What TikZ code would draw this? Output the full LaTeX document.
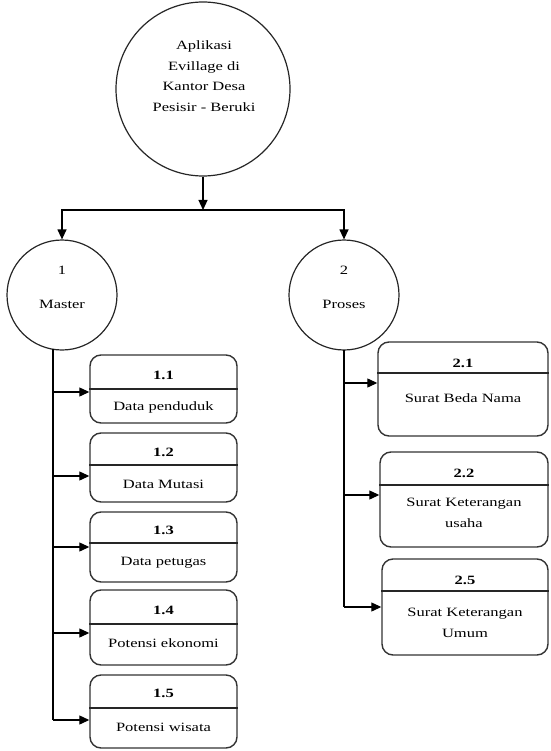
\documentclass[tikz,border=0pt]{standalone}
\usepackage{fontspec}
\setmainfont[FakeStretch=1.3]{Liberation Serif}
\usetikzlibrary{arrows.meta}

\tikzset{
  proc/.style={circle, draw=black!85, line width=1.2pt, inner sep=0pt, minimum size=#1},
  card/.style={draw=black!80, line width=1.4pt, rounded corners=11pt, minimum width=#1, inner sep=0pt},
  lbl/.style={inner sep=0pt, align=center, font=\fontsize{12.7}{20.5}\selectfont},
  num/.style={inner sep=0pt, font=\fontsize{12.7}{14}\selectfont\bfseries},
  link/.style={line width=1.2pt, -{Triangle[length=10pt,width=9pt]}},
  trunk/.style={line width=1.2pt},
  rule/.style={line width=1.2pt, black!85},
}

\begin{document}
\begin{tikzpicture}[x=1pt, y=-1pt]
  \useasboundingbox (0,0) rectangle (550,751);

  % root process
  \node[proc=174pt] (root) at (203,89) {};
  \node[lbl] (roottxt) at (204,76) {Aplikasi\\Evillage di\\Kantor Desa\\Pesisir - Beruki};

  % level-one processes
  \node[proc=110pt] (master) at (62,295) {};
  \node[lbl] (masternum) at (62,270) {1};
  \node[lbl] (mastertxt) at (62,304) {Master};

  \node[proc=110pt] (proses) at (344,295) {};
  \node[lbl] (prosesnum) at (344,270) {2};
  \node[lbl] (prosestxt) at (344,304) {Proses};

  % root to level one
  \coordinate (split) at (203,210);
  \draw[link] (root.south) -- (split);
  \draw[link] (split) -| (master.north);
  \draw[link] (split) -| (proses.north);

  % cards under Master
  \node[card=147pt, minimum height=68pt] (b11) at (163.5,389) {};
  \node[card=147pt, minimum height=69pt] (b12) at (163.5,467.5) {};
  \node[card=147pt, minimum height=70pt] (b13) at (163.5,547) {};
  \node[card=147pt, minimum height=75pt] (b14) at (163.5,627.5) {};
  \node[card=147pt, minimum height=73pt] (b15) at (163.5,711.5) {};

  \draw[rule] (b11.west |- 0,389) -- (b11.east |- 0,389);
  \draw[rule] (b12.west |- 0,465) -- (b12.east |- 0,465);
  \draw[rule] (b13.west |- 0,543) -- (b13.east |- 0,543);
  \draw[rule] (b14.west |- 0,624) -- (b14.east |- 0,624);
  \draw[rule] (b15.west |- 0,708) -- (b15.east |- 0,708);

  \node[num] (n11) at (163.5,375) {1.1};
  \node[lbl] (t11) at (163.5,407) {Data penduduk};
  \node[num] (n12) at (163.5,452) {1.2};
  \node[lbl] (t12) at (163.5,484) {Data Mutasi};
  \node[num] (n13) at (163.5,530) {1.3};
  \node[lbl] (t13) at (163.5,563) {Data petugas};
  \node[num] (n14) at (163.5,610) {1.4};
  \node[lbl] (t14) at (163.5,643) {Potensi ekonomi};
  \node[num] (n15) at (163.5,693) {1.5};
  \node[lbl] (t15) at (163.5,727) {Potensi wisata};

  % Master trunk and branches
  \coordinate (lt0) at (53,349);
  \coordinate (lt1) at (53,720);
  \draw[trunk] (lt0) -- (lt1);
  \draw[link] (53,392) -- (b11.west |- 0,392);
  \draw[link] (53,476) -- (b12.west |- 0,476);
  \draw[link] (53,547) -- (b13.west |- 0,547);
  \draw[link] (53,633) -- (b14.west |- 0,633);
  \draw[link] (lt1) -- (b15.west |- lt1);

  % cards under Proses
  \node[card=170pt, minimum height=94pt] (b21) at (463,389) {};
  \node[card=168pt, minimum height=95pt] (b22) at (464,499.5) {};
  \node[card=166pt, minimum height=96pt] (b23) at (465,607) {};

  \draw[rule] (b21.west |- 0,373) -- (b21.east |- 0,373);
  \draw[rule] (b22.west |- 0,485) -- (b22.east |- 0,485);
  \draw[rule] (b23.west |- 0,591) -- (b23.east |- 0,591);

  \node[num] (n21) at (463,363) {2.1};
  \node[lbl] (t21) at (463,398) {Surat Beda Nama};
  \node[num] (n22) at (464,473) {2.2};
  \node[lbl] (t22) at (464,513) {Surat Keterangan\\usaha};
  \node[num] (n23) at (465,580) {2.5};
  \node[lbl] (t23) at (465,623) {Surat Keterangan\\Umum};

  % Proses trunk and branches
  \coordinate (rt0) at (344,350);
  \coordinate (rt1) at (344,607);
  \draw[trunk] (rt0) -- (rt1);
  \draw[link] (344,383) -- (b21.west |- 0,383);
  \draw[link] (344,495) -- (b22.west |- 0,495);
  \draw[link] (rt1) -- (b23.west |- rt1);
\end{tikzpicture}
\end{document}
